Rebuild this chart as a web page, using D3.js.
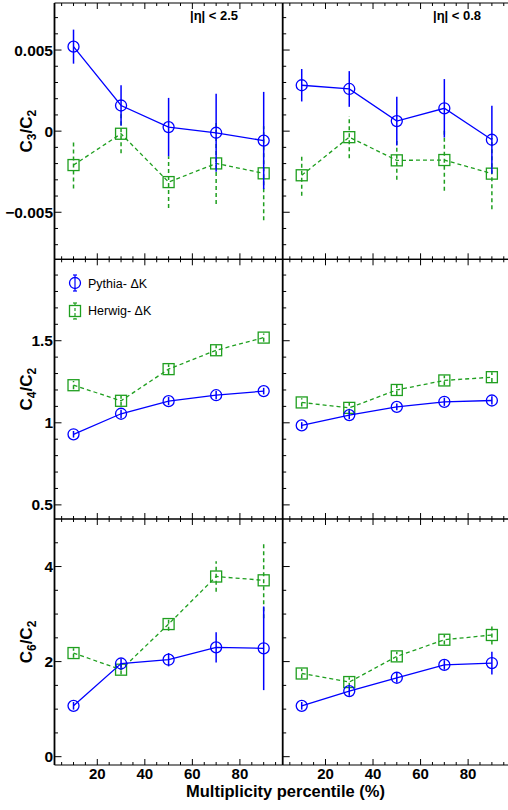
<!DOCTYPE html>
<html>
<head>
<meta charset="utf-8">
<script src="https://cdn.jsdelivr.net/npm/d3@7"></script>
<style>
  html, body { margin: 0; padding: 0; background: #fff; }
  svg { display: block; }
  text { font-family: "Liberation Sans", Arial, sans-serif; }
</style>
</head>
<body>
<svg id="chart" width="508" height="810"></svg>
<script>
// ---------------- DATA ----------------
const percentiles = [10, 30, 50, 70, 90];
const seriesNames = ["Pythia- \u0394K", "Herwig- \u0394K"];
const etaLabels = ["|\u03b7| < 2.5", "|\u03b7| < 0.8"];
const xTickValues = [20, 40, 60, 80];

// C3/C2
const c3PythiaEta25 = [0.00521, 0.00158, 0.00025, -0.0001, -0.00058];
const c3PythiaEta25Err = [0.00105, 0.00125, 0.0018, 0.0024, 0.003];
const c3HerwigEta25 = [-0.00209, -0.00016, -0.00314, -0.00199, -0.0026];
const c3HerwigEta25Err = [0.00145, 0.0012, 0.0016, 0.0025, 0.0029];
const c3PythiaEta08 = [0.00283, 0.0026, 0.00062, 0.00141, -0.00053];
const c3PythiaEta08Err = [0.001, 0.0011, 0.0015, 0.0018, 0.0021];
const c3HerwigEta08 = [-0.00272, -0.00037, -0.0018, -0.00178, -0.00262];
const c3HerwigEta08Err = [0.00126, 0.0013, 0.0012, 0.0019, 0.0022];

// C4/C2
const c4PythiaEta25 = [0.93, 1.055, 1.132, 1.168, 1.193];
const c4PythiaEta25Err = [0.02, 0.025, 0.025, 0.025, 0.02];
const c4HerwigEta25 = [1.229, 1.134, 1.327, 1.442, 1.519];
const c4HerwigEta25Err = [0.025, 0.03, 0.03, 0.03, 0.025];
const c4PythiaEta08 = [0.984, 1.047, 1.097, 1.128, 1.136];
const c4PythiaEta08Err = [0.02, 0.025, 0.02, 0.025, 0.025];
const c4HerwigEta08 = [1.124, 1.091, 1.2, 1.258, 1.278];
const c4HerwigEta08Err = [0.025, 0.03, 0.03, 0.03, 0.03];

// C6/C2
const c6PythiaEta25 = [1.07, 1.96, 2.04, 2.3, 2.28];
const c6PythiaEta25Err = [0.08, 0.1, 0.14, 0.32, 0.88];
const c6HerwigEta25 = [2.18, 1.83, 2.79, 3.79, 3.71];
const c6HerwigEta25Err = [0.1, 0.1, 0.14, 0.32, 0.8];
const c6PythiaEta08 = [1.07, 1.38, 1.66, 1.93, 1.97];
const c6PythiaEta08Err = [0.08, 0.1, 0.1, 0.1, 0.24];
const c6HerwigEta08 = [1.75, 1.57, 2.11, 2.46, 2.56];
const c6HerwigEta08Err = [0.1, 0.1, 0.1, 0.1, 0.2];

const yTitles = [["C", "3", "/C", "2"], ["C", "4", "/C", "2"], ["C", "6", "/C", "2"]];
const yTickLabelsC3 = [-0.005, 0, 0.005];
const yTickLabelsC4 = [0.5, 1, 1.5];
const yTickLabelsC6 = [0, 2, 4];

// ---------------- LAYOUT ----------------
const svg = d3.select("#chart");
const colX = [[54.5, 282.7], [282.7, 510.9]];
const rowY = [[3, 259.3], [259.3, 519], [519, 765]];
const yDomains = [[-0.0079, 0.0079], [0.414, 1.996], [-0.175, 5.0]];
const yMajors = [yTickLabelsC3, yTickLabelsC4, yTickLabelsC6];
const yMinorStep = [0.001, 0.1, 0.5];
const yFormat = [d => d === 0 ? "0" : (d < 0 ? "\u2212" : "") + Math.abs(d).toFixed(3),
                 d => d === 1 ? "1" : String(d),
                 d => String(d)];
const BLUE = "#0000ff", GREEN = "#1f9f1f";

const panelData = [
  [[c3PythiaEta25, c3PythiaEta25Err, c3HerwigEta25, c3HerwigEta25Err],
   [c3PythiaEta08, c3PythiaEta08Err, c3HerwigEta08, c3HerwigEta08Err]],
  [[c4PythiaEta25, c4PythiaEta25Err, c4HerwigEta25, c4HerwigEta25Err],
   [c4PythiaEta08, c4PythiaEta08Err, c4HerwigEta08, c4HerwigEta08Err]],
  [[c6PythiaEta25, c6PythiaEta25Err, c6HerwigEta25, c6HerwigEta25Err],
   [c6PythiaEta08, c6PythiaEta08Err, c6HerwigEta08, c6HerwigEta08Err]]
];

function range(a, b, step) {
  const out = [];
  for (let v = a; v <= b + step * 1e-6; v += step) out.push(+v.toFixed(6));
  return out;
}

for (let r = 0; r < 3; r++) {
  const y = d3.scaleLinear().domain(yDomains[r]).range([rowY[r][1], rowY[r][0]]);
  for (let c = 0; c < 2; c++) {
    const x = d3.scaleLinear().domain([2, 98]).range(colX[c]);
    const g = svg.append("g");
    const [x0, x1] = colX[c], [y0, y1] = rowY[r];

    // frame
    g.append("line").attr("x1", x0).attr("x2", x1).attr("y1", y0).attr("y2", y0)
      .attr("stroke", "#000").attr("stroke-width", 1.2);
    g.append("line").attr("x1", x0).attr("x2", x1).attr("y1", y1).attr("y2", y1)
      .attr("stroke", "#000").attr("stroke-width", 1.2);
    g.append("line").attr("x1", x0).attr("x2", x0).attr("y1", y0).attr("y2", y1)
      .attr("stroke", "#000").attr("stroke-width", 1.8);

    // x ticks (bottom up, top down)
    const xMinor = range(5, 95, 5);
    xMinor.forEach(v => {
      const major = xTickValues.includes(v);
      const len = major ? 6 : 3;
      g.append("line").attr("x1", x(v)).attr("x2", x(v)).attr("y1", y1).attr("y2", y1 - len)
        .attr("stroke", "#000").attr("stroke-width", 1);
      g.append("line").attr("x1", x(v)).attr("x2", x(v)).attr("y1", y0).attr("y2", y0 + len)
        .attr("stroke", "#000").attr("stroke-width", 1);
    });
    if (r === 2) {
      xTickValues.forEach(v => {
        g.append("text").attr("x", x(v)).attr("y", 779).attr("text-anchor", "middle")
          .attr("font-size", 15).attr("font-weight", "bold").text(v);
      });
    }

    // y ticks
    const dom = yDomains[r];
    const yMinor = range(Math.ceil(dom[0] / yMinorStep[r]) * yMinorStep[r], dom[1], yMinorStep[r]);
    yMinor.forEach(v => {
      const major = yMajors[r].some(m => Math.abs(m - v) < 1e-9);
      const len = major ? 7 : 3.5;
      if (y(v) > y0 + 0.5 && y(v) < y1 - 0.5)
        g.append("line").attr("x1", x0).attr("x2", x0 + len).attr("y1", y(v)).attr("y2", y(v))
          .attr("stroke", "#000").attr("stroke-width", 1);
    });
    if (c === 0) {
      yMajors[r].forEach(v => {
        g.append("text").attr("x", 53).attr("y", y(v) + 5.5).attr("text-anchor", "end")
          .attr("font-size", 15.5).attr("font-weight", "bold").text(yFormat[r](v));
      });
    }

    // series
    const [pv, pe, hv, he] = panelData[r][c];
    const series = [
      {v: hv, e: he, color: GREEN, dash: "4,3", marker: "square"},
      {v: pv, e: pe, color: BLUE, dash: null, marker: "circle"}
    ];
    series.forEach(s => {
      const pts = percentiles.map((p, i) => [p, s.v[i], s.e[i]]);
      // error bars
      pts.forEach(d => {
        g.append("line").attr("x1", x(d[0])).attr("x2", x(d[0]))
          .attr("y1", y(d[1] - d[2])).attr("y2", y(d[1] + d[2]))
          .attr("stroke", s.color).attr("stroke-width", 1.5)
          .attr("stroke-dasharray", s.dash);
      });
      // line
      g.append("path").datum(pts)
        .attr("d", d3.line().x(d => x(d[0])).y(d => y(d[1])))
        .attr("fill", "none").attr("stroke", s.color).attr("stroke-width", 1.3)
        .attr("stroke-dasharray", s.dash);
      // markers
      pts.forEach(d => {
        if (s.marker === "circle") {
          g.append("circle").attr("cx", x(d[0])).attr("cy", y(d[1])).attr("r", 5.5)
            .attr("fill", "none").attr("stroke", s.color).attr("stroke-width", 1.3);
        } else {
          g.append("rect").attr("x", x(d[0]) - 5.5).attr("y", y(d[1]) - 5.5)
            .attr("width", 11).attr("height", 11)
            .attr("fill", "none").attr("stroke", s.color).attr("stroke-width", 1.3);
        }
      });
    });

    if (r === 0) {
      g.append("text").attr("x", c === 0 ? 190 : 433).attr("y", 20)
        .attr("font-size", 13).attr("font-weight", "bold").text(etaLabels[c]);
    }
  }

  // y title
  const yc = (rowY[r][0] + rowY[r][1]) / 2;
  const t = svg.append("text").attr("transform", `translate(32,${yc}) rotate(-90)`)
    .attr("text-anchor", "middle").attr("font-size", 17).attr("font-weight", "bold");
  const parts = yTitles[r];
  t.append("tspan").text(parts[0]);
  t.append("tspan").attr("font-size", 12).attr("dy", 4).text(parts[1]);
  t.append("tspan").attr("dy", -4).text(parts[2]);
  t.append("tspan").attr("font-size", 12).attr("dy", 4).text(parts[3]);
}

// legend
const legend = svg.append("g");
[[BLUE, null, "circle", 283, 288], [GREEN, "3,2", "square", 311, 315]].forEach((L, i) => {
  const [color, dash, marker, cy, by] = L;
  const cx = 75;
  legend.append("line").attr("x1", cx).attr("x2", cx).attr("y1", cy - 8).attr("y2", cy + 8)
    .attr("stroke", color).attr("stroke-width", 1.2).attr("stroke-dasharray", dash);
  legend.append("line").attr("x1", cx - 2).attr("x2", cx + 2).attr("y1", cy - 8).attr("y2", cy - 8)
    .attr("stroke", color).attr("stroke-width", 1.2);
  legend.append("line").attr("x1", cx - 2).attr("x2", cx + 2).attr("y1", cy + 8).attr("y2", cy + 8)
    .attr("stroke", color).attr("stroke-width", 1.2);
  if (marker === "circle") {
    legend.append("circle").attr("cx", cx).attr("cy", cy).attr("r", 5.5)
      .attr("fill", "none").attr("stroke", color).attr("stroke-width", 1.3);
  } else {
    legend.append("rect").attr("x", cx - 5.5).attr("y", cy - 5.5).attr("width", 11).attr("height", 11)
      .attr("fill", "none").attr("stroke", color).attr("stroke-width", 1.3);
  }
  legend.append("text").attr("x", 88).attr("y", by).attr("font-size", 12.5).text(seriesNames[i]);
});

// x title
svg.append("text").attr("x", 285.5).attr("y", 797).attr("text-anchor", "middle")
  .attr("font-size", 16.5).attr("font-weight", "bold").text("Multiplicity percentile (%)");
</script>
</body>
</html>
